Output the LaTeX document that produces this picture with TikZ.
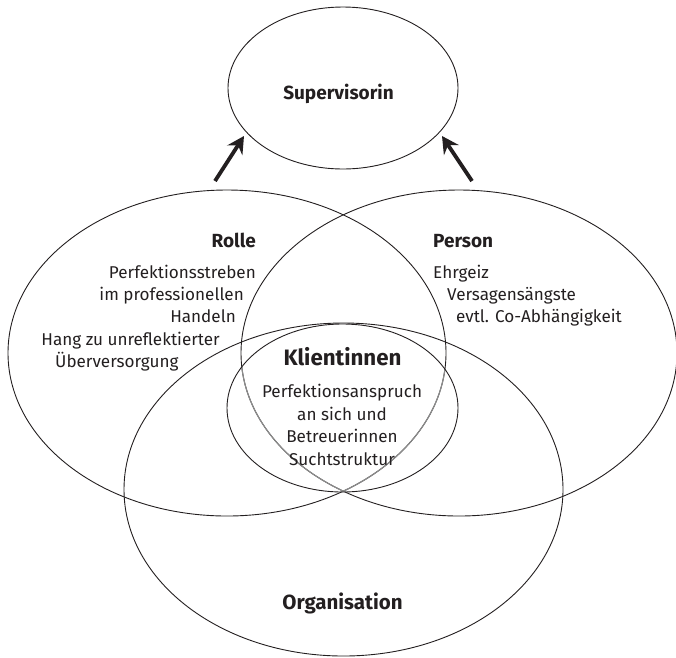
\documentclass[tikz,border=0pt]{standalone}
\usepackage{fontspec}
\setmainfont{Fira Sans}
\usetikzlibrary{arrows.meta}

\definecolor{ink}{RGB}{35,31,32}

\tikzset{
  ring/.style={draw=ink, line width=0.9pt},
  ringgray/.style={draw=black!45, line width=1.15pt},
  title/.style={font=\fontsize{19}{23}\selectfont\bfseries, text=ink, inner sep=0pt},
  bigtitle/.style={font=\fontsize{22.3}{27}\selectfont\bfseries, text=ink, inner sep=0pt},
  txt/.style={font=\fontsize{17.1}{20}\selectfont, text=ink, inner sep=0pt},
  bigarrow/.style={-{Stealth[length=17pt,width=18pt,inset=6pt]}, line width=3.8pt, draw=ink},
}

\begin{document}
\begin{tikzpicture}[x=1pt, y=-1pt]

    \useasboundingbox (0,0) rectangle (676,657);

    % --- 1. The circles ---
    \def\rx{219}
    \def\ry{163}

    \draw[ring] (343,88) ellipse [x radius=115, y radius=81];    % Supervisorin
    \draw[ring] (227,353) ellipse [x radius=\rx, y radius=\ry];  % Rolle
    \draw[ring] (459,353) ellipse [x radius=218, y radius=\ry];  % Person
    \draw[ring] (343.5,489.5) ellipse [x radius=219.5, y radius=166.5]; % Organisation

    % Rolle and Person are lighter inside the Klientinnen circle
    \begin{scope}
        \clip (342.5,408) ellipse [x radius=115.5, y radius=84];
        \draw[ringgray] (227,353) ellipse [x radius=\rx, y radius=\ry];
        \draw[ringgray] (459,353) ellipse [x radius=218, y radius=\ry];
    \end{scope}

    \draw[ring] (342.5,408) ellipse [x radius=115.5, y radius=84]; % Klientinnen

    % --- 2. Arrows up to the Supervisorin ---
    \coordinate (rolleTail) at (215,181);
    \coordinate (rolleTip) at (244,136);
    \coordinate (personTail) at (472,181);
    \coordinate (personTip) at (442,136);

    \draw[bigarrow] (rolleTail) -- (rolleTip);
    \draw[bigarrow] (personTail) -- (personTip);

    % --- 3. Labels ---
    \node[title, anchor=base] (supervisorin) at (338.5,99) {Supervisorin};

    % Rolle
    \node[title, anchor=base east] (rolle) at (256,247) {Rolle};
    \node[txt, anchor=base east] (rolleA) at (256,278) {Perfektionsstreben};
    \node[txt, anchor=base east] (rolleB) at (244,300) {im professionellen};
    \node[txt, anchor=base east] (rolleC) at (236,322.5) {Handeln};
    \node[txt, anchor=base east] (rolleD) at (220,345) {Hang zu unreflektierter};
    \node[txt, anchor=base west] (rolleE) at (55,367.5) {Überversorgung};

    % Person
    \node[title, anchor=base west] (person) at (433,247) {Person};
    \node[txt, anchor=base west] (personA) at (433,278) {Ehrgeiz};
    \node[txt, anchor=base west] (personB) at (447,300) {Versagensängste};
    \node[txt, anchor=base west] (personC) at (456,322.5) {evtl. Co-Abhängigkeit};

    % Klientinnen
    \node[bigtitle, anchor=base] (klientinnen) at (342.5,365) {Klientinnen};
    \node[txt, anchor=base] (klientA) at (342,397.5) {Perfektionsanspruch};
    \node[txt, anchor=base] (klientB) at (342,420) {an sich und};
    \node[txt, anchor=base] (klientC) at (342,442.5) {Betreuerinnen};
    \node[txt, anchor=base] (klientD) at (342,465) {Suchtstruktur};

    % Organisation
    \node[title, font=\fontsize{20.5}{25}\selectfont\bfseries, anchor=base] (organisation) at (342.5,609) {Organisation};

\end{tikzpicture}
\end{document}
